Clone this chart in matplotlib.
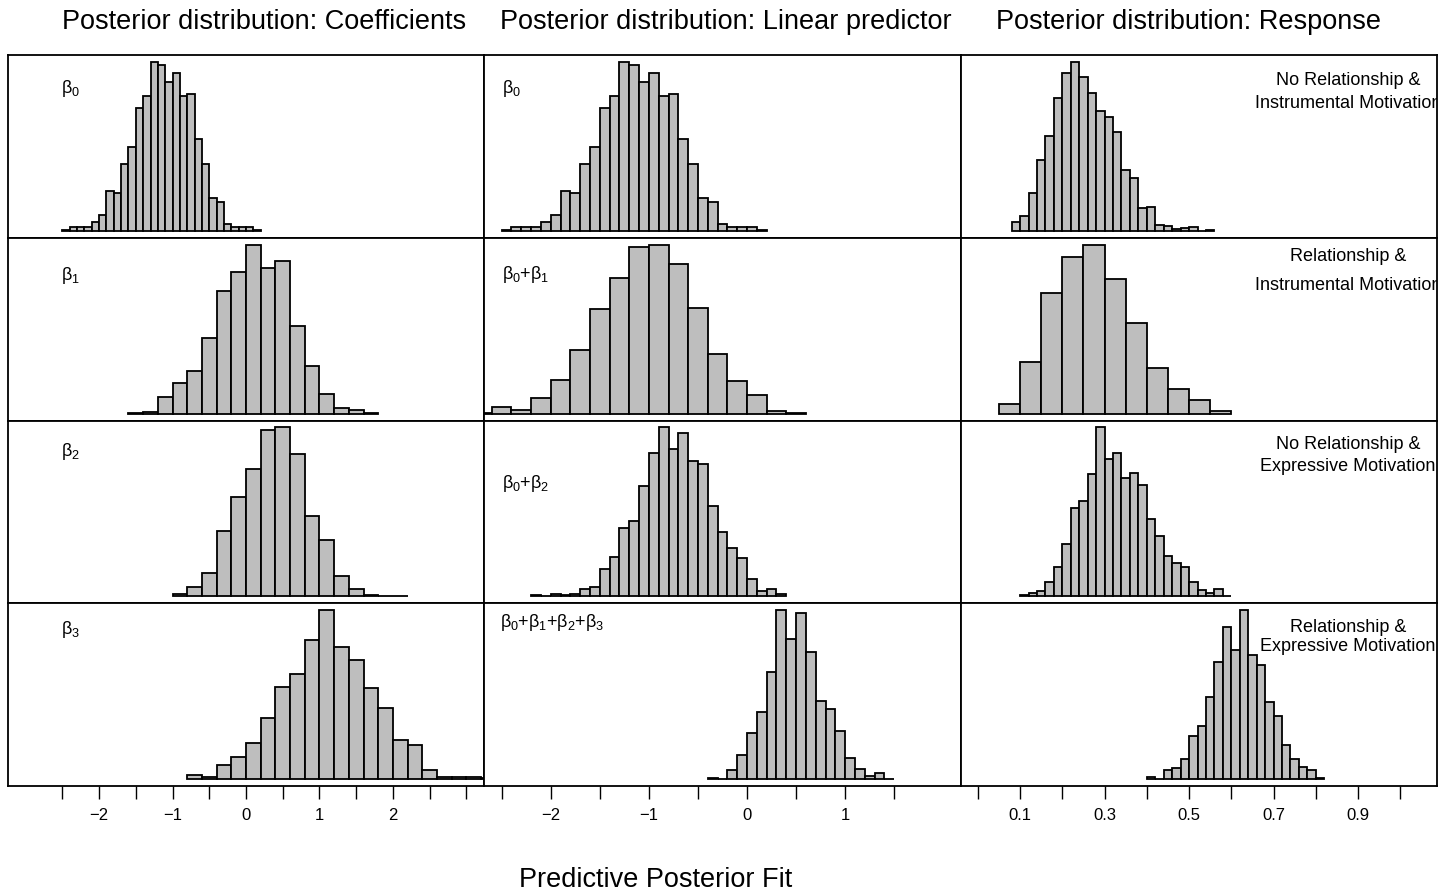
import matplotlib
matplotlib.use('Agg')
import matplotlib.pyplot as plt
import numpy as np

plt.rcParams['font.family'] = ['Liberation Sans', 'DejaVu Sans']
plt.rcParams['mathtext.fontset'] = 'custom'
plt.rcParams['mathtext.rm'] = 'Liberation Sans'
plt.rcParams['mathtext.it'] = 'Liberation Sans'

# bar heights (relative frequencies, y axis not shown)
# column 1: coefficients
coef_b0_start, coef_b0_width = -2.5, 0.1
coef_b0 = [3, 12, 12, 12, 27, 49, 119, 114, 202, 252, 369, 405, 507, 497, 445, 474,
           405, 409, 275, 202, 100, 87, 22, 12, 12, 12, 3]
coef_b1_start, coef_b1_width = -1.6, 0.2
coef_b1 = [1, 6, 49, 91, 129, 226, 367, 423, 505, 434, 457, 261, 142, 58, 17, 11, 3]
coef_b2_start, coef_b2_width = -1.0, 0.2
coef_b2 = [6, 28, 70, 196, 297, 382, 499, 506, 426, 240, 169, 60, 21, 4, 2, 2]
coef_b3_start, coef_b3_width = -0.8, 0.2
coef_b3 = [12, 8, 43, 68, 109, 182, 276, 314, 418, 507, 397, 358, 273, 213, 117, 103,
           28, 8, 6, 6, 4]

# column 2: linear predictor
lin_b0_start, lin_b0_width = -2.5, 0.1
lin_b0 = [3, 12, 12, 12, 27, 49, 119, 114, 202, 252, 369, 405, 507, 497, 445, 474,
          405, 409, 275, 202, 100, 87, 22, 12, 12, 12, 3]
lin_b01_start, lin_b01_width = -2.8, 0.2
lin_b01 = [2, 20, 11, 47, 100, 191, 313, 404, 498, 505, 448, 316, 177, 97, 57, 9, 2]
lin_b02_start, lin_b02_width = -2.2, 0.1
lin_b02 = [3, 1, 6, 3, 6, 22, 28, 82, 118, 206, 227, 330, 430, 507, 442, 489, 405, 397,
           272, 194, 144, 116, 51, 17, 23, 7]
lin_b0123_start, lin_b0123_width = -0.4, 0.1
lin_b0123 = [5, 2, 29, 74, 138, 201, 322, 507, 421, 499, 382, 234, 210, 144, 65, 32, 10, 19, 2]

# column 3: response
resp_nr_inst_start, resp_nr_inst_width = 0.08, 0.02
resp_nr_inst = [28, 44, 115, 212, 285, 399, 473, 507, 462, 412, 358, 342, 297, 182, 158,
                68, 72, 19, 15, 5, 8, 11, 1, 4]
resp_r_inst_start, resp_r_inst_width = 0.05, 0.05
resp_r_inst = [29, 155, 360, 468, 505, 401, 270, 137, 73, 41, 8]
resp_nr_expr_start, resp_nr_expr_width = 0.10, 0.02
resp_nr_expr = [3, 10, 15, 43, 89, 157, 264, 285, 367, 506, 411, 428, 353, 370, 333, 231,
                182, 121, 100, 89, 43, 18, 10, 23, 2]
resp_r_expr_start, resp_r_expr_width = 0.40, 0.02
resp_r_expr = [6, 1, 27, 34, 61, 131, 159, 247, 350, 455, 387, 507, 371, 343, 231, 189,
               104, 61, 37, 27, 3]

col_titles = ['Posterior distribution: Coefficients',
              'Posterior distribution: Linear predictor',
              'Posterior distribution: Response']
coef_labels = [r'$\beta_0$', r'$\beta_1$', r'$\beta_2$', r'$\beta_3$']
lin_labels = [r'$\beta_0$', r'$\beta_0$+$\beta_1$', r'$\beta_0$+$\beta_2$',
              r'$\beta_0$+$\beta_1$+$\beta_2$+$\beta_3$']
resp_labels = [['No Relationship &', 'Instrumental Motivation'],
               ['Relationship &', 'Instrumental Motivation'],
               ['No Relationship &', 'Expressive Motivation'],
               ['Relationship &', 'Expressive Motivation']]

coef_ticks = [-2.5, -2, -1.5, -1, -0.5, 0, 0.5, 1, 1.5, 2, 2.5, 3]
coef_ticklabels = ['', '\u22122', '', '\u22121', '', '0', '', '1', '', '2', '', '']
lin_ticks = [-2.5, -2, -1.5, -1, -0.5, 0, 0.5, 1, 1.5]
lin_ticklabels = ['', '\u22122', '', '\u22121', '', '0', '', '1', '']
resp_ticks = [0.0, 0.1, 0.2, 0.3, 0.4, 0.5, 0.6, 0.7, 0.8, 0.9, 1.0]
resp_ticklabels = ['', '0.1', '', '0.3', '', '0.5', '', '0.7', '', '0.9', '']

columns = [
    [(coef_b0_start, coef_b0_width, coef_b0), (coef_b1_start, coef_b1_width, coef_b1),
     (coef_b2_start, coef_b2_width, coef_b2), (coef_b3_start, coef_b3_width, coef_b3)],
    [(lin_b0_start, lin_b0_width, lin_b0), (lin_b01_start, lin_b01_width, lin_b01),
     (lin_b02_start, lin_b02_width, lin_b02), (lin_b0123_start, lin_b0123_width, lin_b0123)],
    [(resp_nr_inst_start, resp_nr_inst_width, resp_nr_inst),
     (resp_r_inst_start, resp_r_inst_width, resp_r_inst),
     (resp_nr_expr_start, resp_nr_expr_width, resp_nr_expr),
     (resp_r_expr_start, resp_r_expr_width, resp_r_expr)],
]
xlims = [(-3.24, 3.24), (-2.68, 2.18), (-0.04, 1.087)]
ticks = [(coef_ticks, coef_ticklabels), (lin_ticks, lin_ticklabels),
         (resp_ticks, resp_ticklabels)]

FW, FH = 1452, 894
fig = plt.figure(figsize=(FW / 100, FH / 100), dpi=100)

col_x = [8, 484, 961]
col_w = [476, 477, 476]
row_top = 55
row_h = 182.75

# label positions in axes fractions
coef_lab_pos = [(0.111, 0.819), (0.111, 0.796), (0.111, 0.833), (0.111, 0.854)]
lin_lab_pos = [(0.038, 0.819), (0.038, 0.80), (0.038, 0.653), (0.034, 0.897)]
resp_lab_pos = [(0.863, 0.737), (0.895, 0.741), (0.866, 0.746), (0.865, 0.766)]

for c in range(3):
    for r in range(4):
        y0 = row_top + r * row_h
        ax = fig.add_axes([col_x[c] / FW, 1 - (y0 + row_h) / FH, col_w[c] / FW, row_h / FH])
        start, width, counts = columns[c][r]
        counts = np.array(counts, dtype=float)
        left = start + width * np.arange(len(counts))
        ax.bar(left, counts, width=width, align='edge', color='#BEBEBE',
               edgecolor='black', linewidth=1.3)
        ax.set_xlim(*xlims[c])
        top = counts.max()
        ax.set_ylim(-0.04 * top, 1.04 * top)
        ax.set_yticks([])
        for s in ax.spines.values():
            s.set_linewidth(1.3)
        if r == 3:
            ax.set_xticks(ticks[c][0])
            ax.set_xticklabels(ticks[c][1], fontsize=12)
            ax.tick_params(axis='x', direction='out', length=9.5, width=1.0, pad=6)
        else:
            ax.set_xticks([])
        if c == 0:
            ax.text(*coef_lab_pos[r], coef_labels[r], transform=ax.transAxes,
                    fontsize=13, ha='left', va='center')
        elif c == 1:
            ax.text(*lin_lab_pos[r], lin_labels[r], transform=ax.transAxes,
                    fontsize=13, ha='left', va='center')
        else:
            y1, y2 = resp_lab_pos[r]
            for yy, line in zip((y1, y2), resp_labels[r]):
                ax.text(0.813, yy, line, transform=ax.transAxes, fontsize=13,
                        ha='center', va='center', clip_on=True)

title_x = [264, 726, 1188]
for tx, t in zip(title_x, col_titles):
    fig.text(tx / FW, 1 - 22 / FH, t, fontsize=19.5, ha='center', va='center')
fig.text(656 / FW, 1 - 880 / FH, 'Predictive Posterior Fit', fontsize=19.5,
         ha='center', va='center')

fig.savefig('out.png', dpi=100)
